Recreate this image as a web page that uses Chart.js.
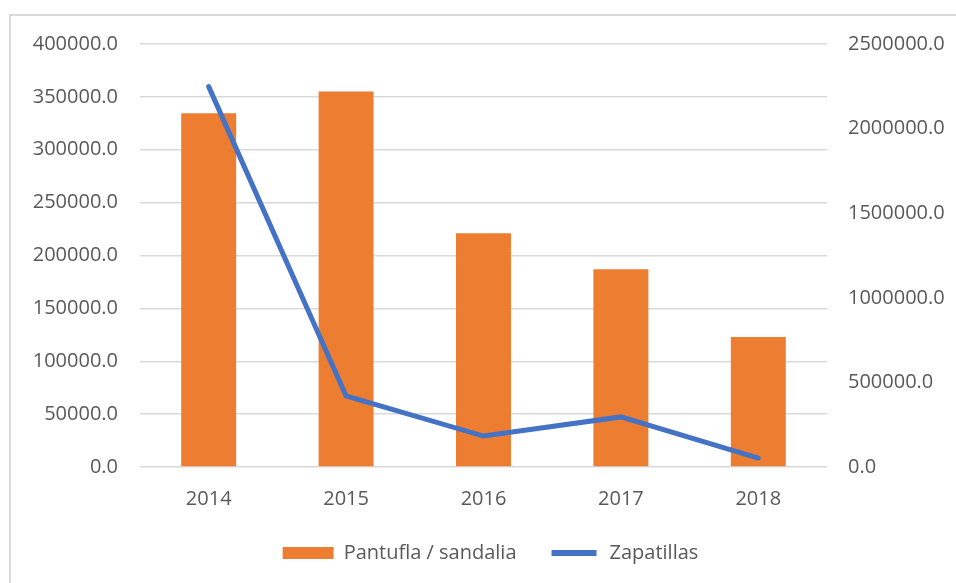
<!DOCTYPE html>
<html>
<head>
<meta charset="utf-8">
<script src="https://cdn.jsdelivr.net/npm/chart.js@4/dist/chart.umd.min.js"></script>
<style>
  html, body { margin: 0; padding: 0; background: #fff; overflow: hidden; }
  #frame { position: absolute; left: 9px; top: 14px; width: 980px; height: 600px; border: 2px solid #d9d9d9; box-sizing: border-box; }
  #wrap { position: absolute; left: 0; top: 0; width: 956px; height: 583px; }
</style>
</head>
<body>
<div id="frame"></div>
<div id="wrap"><canvas id="chart"></canvas></div>
<script>
// chart data
const years = ['2014', '2015', '2016', '2017', '2018'];
const pantufla = [334500, 355000, 221000, 187000, 123000];
const zapatillas = [2248000, 420000, 183000, 296000, 53000];

const grey = '#595959';
const tickFont = { family: 'Open Sans', size: 20 };

const ctx = document.getElementById('chart').getContext('2d');

new Chart(ctx, {
  type: 'bar',
  data: {
    labels: years,
    datasets: [
      {
        label: 'Pantufla / sandalia',
        data: pantufla,
        backgroundColor: '#ED7D31',
        categoryPercentage: 1,
        barPercentage: 0.4,
        yAxisID: 'y',
        order: 1,
      },
      {
        type: 'line',
        label: 'Zapatillas',
        data: zapatillas,
        borderColor: '#4472C4',
        backgroundColor: '#4472C4',
        borderWidth: 5,
        borderCapStyle: 'round',
        pointRadius: 0,
        tension: 0,
        yAxisID: 'y1',
        order: 0,
      },
    ],
  },
  options: {
    responsive: true,
    maintainAspectRatio: false,
    animation: false,
    // left padding nudges the centred legend right; axis width makes up for it
    layout: { padding: { top: 44, left: 25, right: 0, bottom: 10 } },
    plugins: {
      tooltip: { enabled: false },
      legend: {
        position: 'bottom',
        labels: {
          color: grey,
          font: tickFont,
          boxWidth: 51,
          boxHeight: 12,
          padding: 32,
          // line item gets a thick white edge so only a thin blue bar is left
          generateLabels: (chart) => chart.data.datasets.map((ds, i) => ({
            text: ds.label,
            fillStyle: ds.backgroundColor,
            strokeStyle: ds.type === 'line' ? '#ffffff' : ds.backgroundColor,
            lineWidth: ds.type === 'line' ? 6 : 0,
            fontColor: grey,
            datasetIndex: i,
            hidden: false,
          })),
        },
      },
    },
    scales: {
      x: {
        afterFit: (s) => { s.height = 44; },
        grid: { display: false, drawTicks: false },
        border: { display: false },
        ticks: { color: grey, font: tickFont, padding: 20 },
      },
      y: {
        position: 'left',
        min: 0,
        max: 400000,
        afterFit: (s) => { s.width = 115; },
        grid: { color: '#d9d9d9', lineWidth: 1.5, drawTicks: false },
        border: { display: false },
        ticks: {
          stepSize: 50000,
          color: grey,
          font: tickFont,
          padding: 22,
          callback: (v) => v.toFixed(1),
        },
      },
      y1: {
        position: 'right',
        min: 0,
        max: 2500000,
        afterFit: (s) => { s.width = 129; },
        grid: { display: false, drawTicks: false },
        border: { display: false },
        ticks: {
          stepSize: 500000,
          color: grey,
          font: tickFont,
          padding: 21,
          callback: (v) => v.toFixed(1),
        },
      },
    },
  },
});
</script>
</body>
</html>
